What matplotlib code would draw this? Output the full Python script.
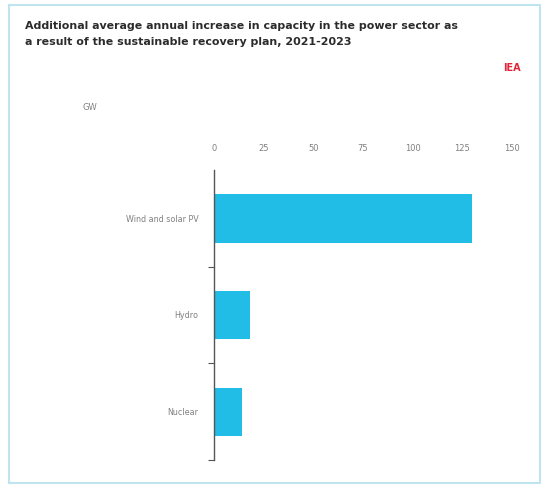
import matplotlib.pyplot as plt
from matplotlib.patches import Rectangle

categories = ["Wind and solar PV", "Hydro", "Nuclear"]
values = [130, 18, 14]
x_ticks = [0, 25, 50, 75, 100, 125, 150]

BAR_COLOR = "#22bde6"
GREY = "#808080"

fig = plt.figure(figsize=(5.44, 4.87), dpi=100)
fig.patch.set_facecolor("white")

# light frame round the card
fig.patches.append(
    Rectangle((9 / 544, 4 / 487), 531 / 544, 478 / 487, transform=fig.transFigure,
              fill=False, edgecolor="#bfe3ef", linewidth=1.5)
)

fig.text(25 / 544, 1 - 34 / 487,
         "Additional average annual increase in capacity in the power sector as\n"
         "a result of the sustainable recovery plan, 2021-2023",
         fontsize=7.9, fontweight="bold", color="#2b2b2b", va="center", linespacing=1.65)
fig.text(512 / 544, 1 - 68 / 487, "IEA", fontsize=7, fontweight="bold",
         color="#e0263a", ha="center", va="center")
fig.text(90 / 544, 1 - 108 / 487, "GW", fontsize=6, color=GREY, ha="center", va="center")

ax = fig.add_axes([214 / 544, 1 - 460 / 487, (512 - 214) / 544, 290 / 487])
pos = list(range(len(categories)))
ax.barh(pos, values, height=0.5, color=BAR_COLOR)
ax.set_xlim(0, 150)
ax.set_ylim(2.5, -0.5)

ax.xaxis.tick_top()
ax.set_xticks(x_ticks)
ax.set_xticklabels([str(t) for t in x_ticks])
ax.tick_params(axis="x", length=0, labelsize=6, colors=GREY, pad=12)

ax.set_yticks([0.5, 1.5, 2.5])
ax.set_yticklabels([])
ax.set_yticks(pos, minor=True)
ax.set_yticklabels(categories, minor=True)
ax.tick_params(axis="y", which="major", length=4, color="#555555", width=0.8)
ax.tick_params(axis="y", which="minor", length=0, labelsize=5.8, labelcolor=GREY, pad=11)

for side in ["top", "right", "bottom"]:
    ax.spines[side].set_visible(False)
ax.spines["left"].set_color("#555555")
ax.spines["left"].set_linewidth(1.0)

fig.savefig("out.png", dpi=100, facecolor="white")
